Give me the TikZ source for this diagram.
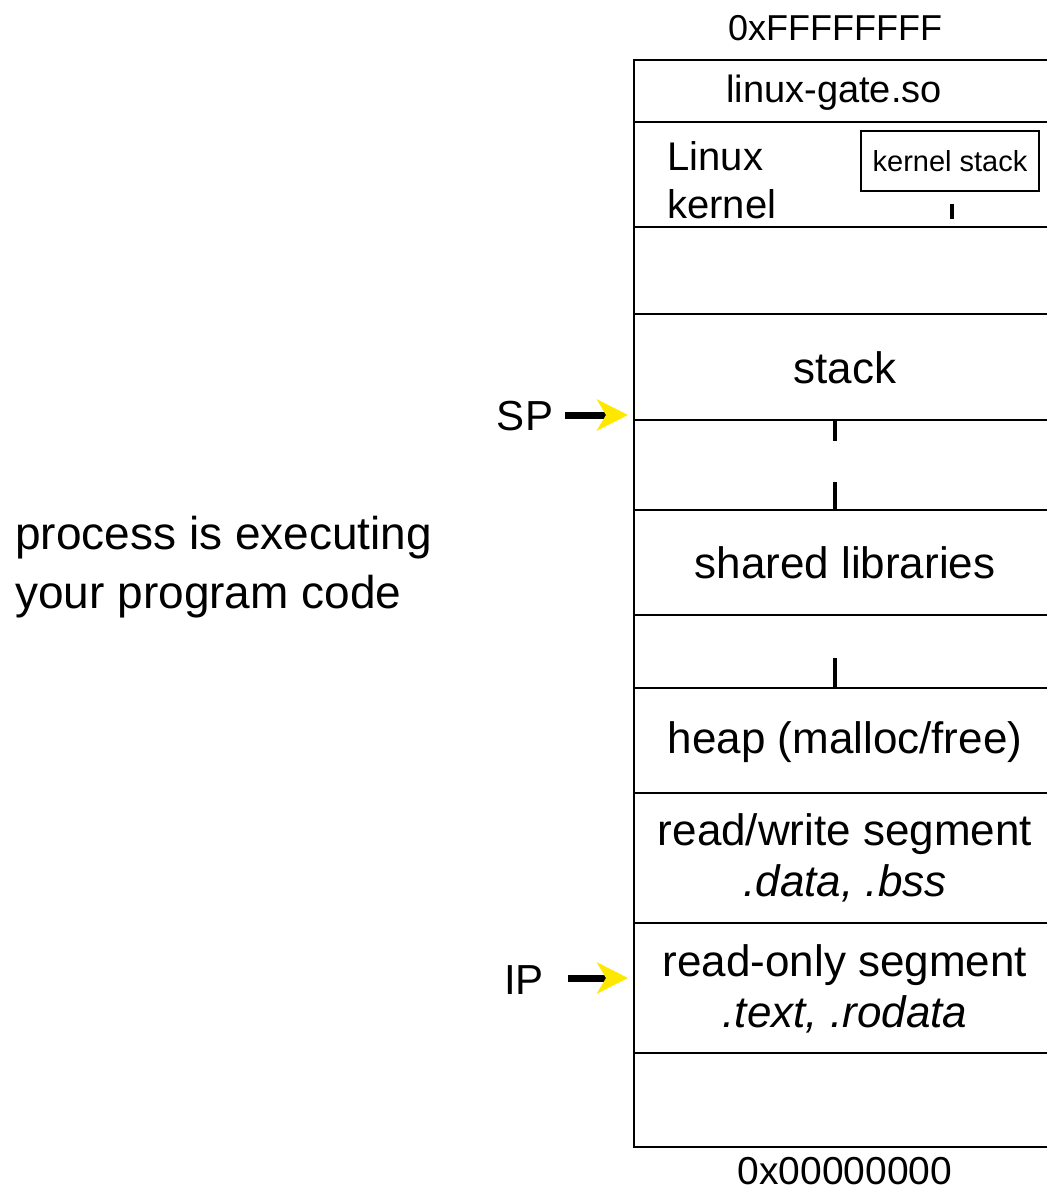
\documentclass[tikz,border=0pt]{standalone}
\usepackage{fontspec}
\setmainfont{Liberation Sans}
\usetikzlibrary{arrows.meta}
\definecolor{ptryellow}{RGB}{255,232,0}

\begin{document}
\begin{tikzpicture}[x=0.5pt,y=-0.5pt,
  seg/.style={inner sep=0pt,align=center,font=\fontsize{22}{25.5}\selectfont},
  addr/.style={inner sep=0pt,font=\fontsize{18}{21}\selectfont},
  reg/.style={inner sep=0pt,font=\fontsize{21}{24}\selectfont},
  growdash/.style={line width=2pt},
  ptr/.style={line width=3.5pt,
    -{Stealth[length=15.5pt,width=15.5pt,inset=4.5pt,color=ptryellow]}}]
\useasboundingbox (0,0) rectangle (1047,1192);
% address space column
\draw[line width=0.9pt] (1060,60) -- (634,60) -- (634,1147) -- (1060,1147);
\foreach \y in {122,227,314,420,510,615,688,793,923,1053}
  \draw[line width=0.9pt] (634,\y) -- (1060,\y);
\node[addr] (top) at (835,28) {0xFFFFFFFF};
\node[addr,font=\fontsize{19.5}{23}\selectfont] (bottom) at (845,1171) {0x00000000};
\node[seg,font=\fontsize{19}{22}\selectfont] (gate) at (834,93) {linux-gate.so};
\node[seg,align=left,anchor=west,font=\fontsize{20}{24}\selectfont] (kernel) at (667,180) {Linux\\kernel};
\node[draw,line width=0.7pt,minimum width=89pt,minimum height=30pt,inner sep=0pt,
  font=\fontsize{14.5}{17}\selectfont] (kstack) at (950,161) {kernel stack};
\draw[line width=1.7pt] (952,204) -- (952,219);
\node[seg] (stack) at (845,368) {stack};
\draw[growdash] (835,420) -- (835,441);
\draw[growdash] (835,482) -- (835,510);
\node[seg] (shlib) at (845,563) {shared libraries};
\draw[growdash] (835,658) -- (835,688);
\node[seg] (heap) at (845,742) {heap (malloc/free)};
\node[seg] (rw) at (845,858) {read/write segment\\\textit{.data, .bss}};
\node[seg] (ro) at (845,989) {read-only segment\\\textit{.text, .rodata}};
% registers
\node[reg] (sp) at (525,416) {SP};
\coordinate (spTip) at (628,415);
\draw[ptr,shorten <=6pt] (sp.east |- spTip) -- (spTip);
\node[reg] (ip) at (524,980) {IP};
\coordinate (ipTip) at (628,978);
\draw[ptr,shorten <=12pt] (ip.east |- ipTip) -- (ipTip);
\node[inner sep=0pt,anchor=west,align=left,font=\fontsize{23}{29.5}\selectfont] (note) at (15,567)
  {process is executing\\your program code};
\end{tikzpicture}
\end{document}
